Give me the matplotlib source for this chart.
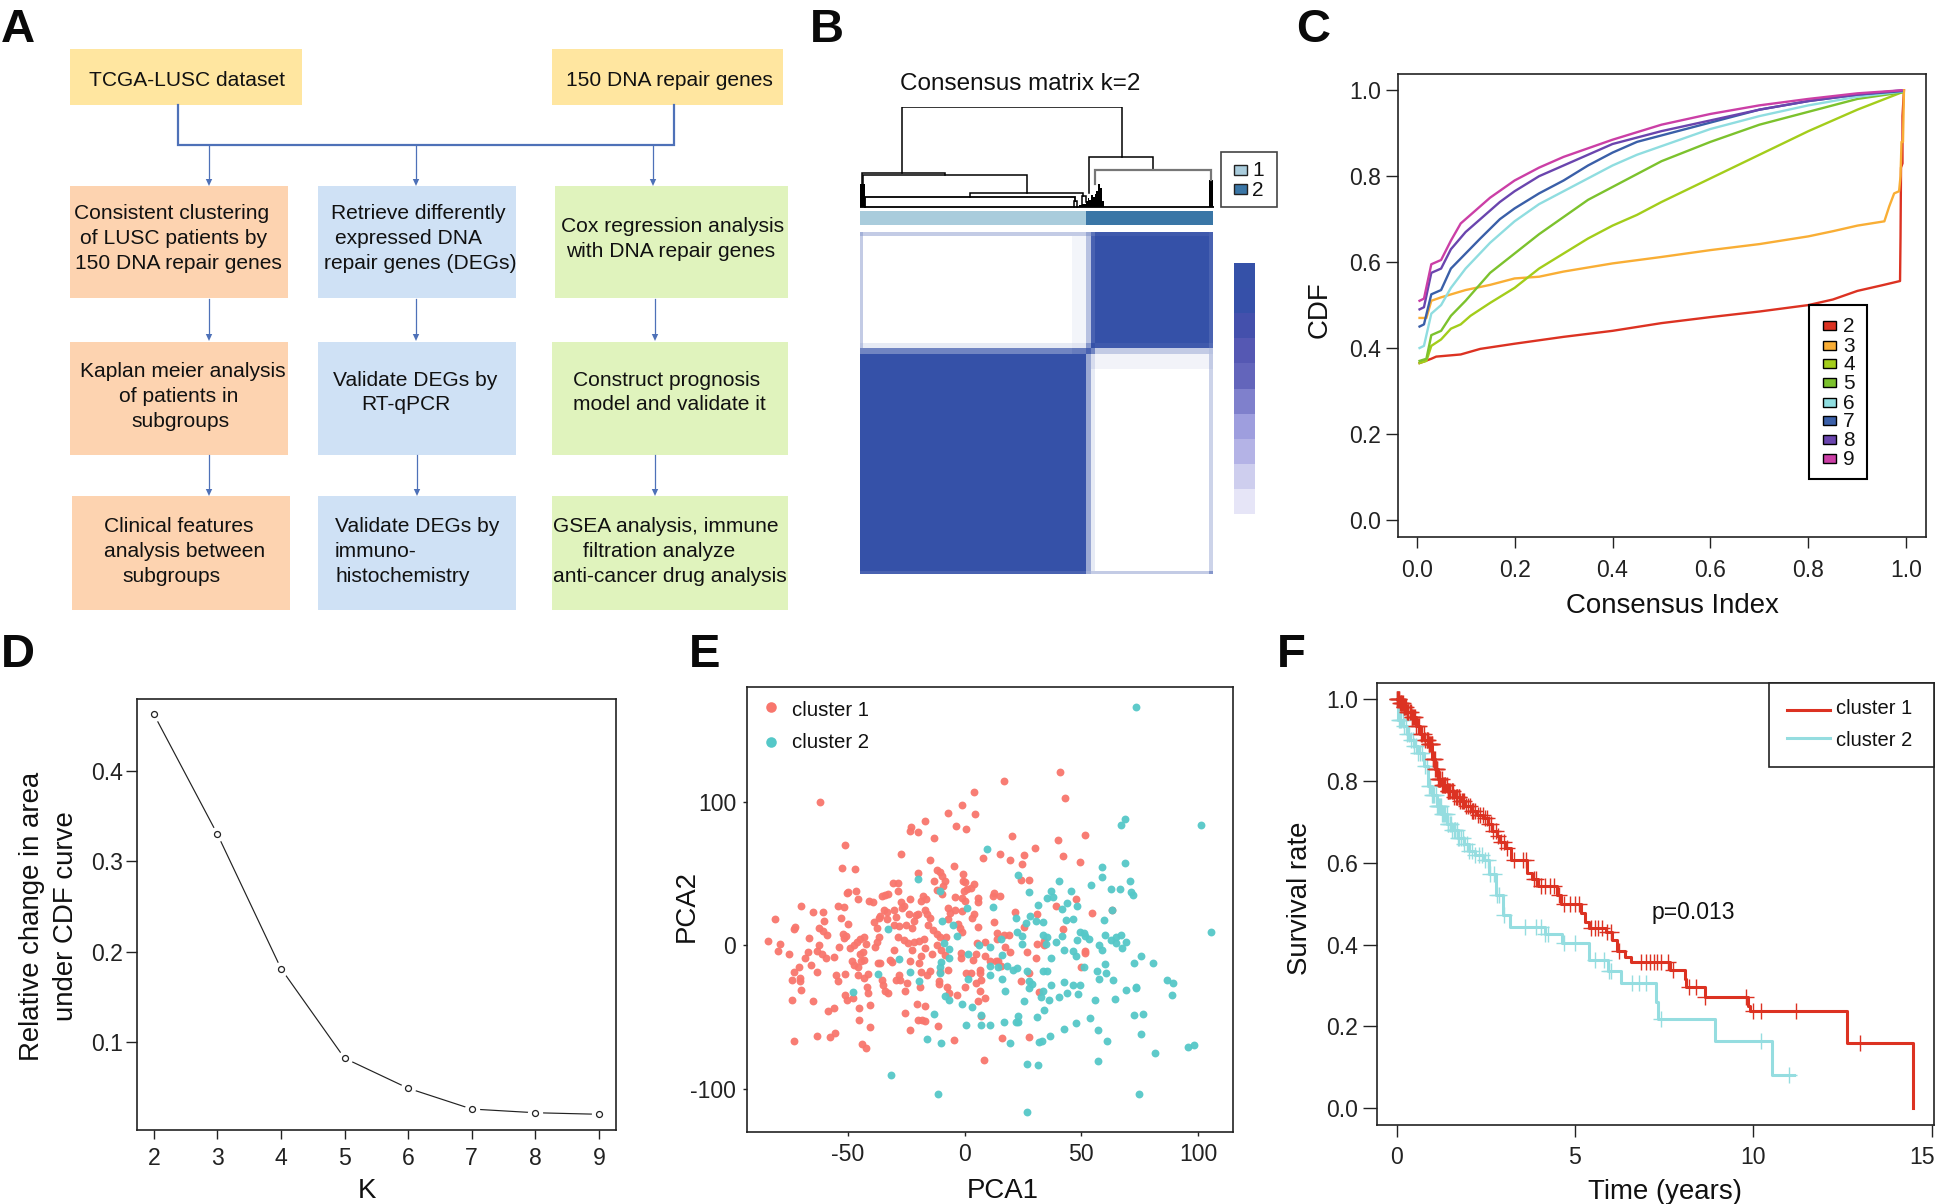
import numpy as np
import matplotlib
matplotlib.use("Agg")
import matplotlib.pyplot as plt
from matplotlib.colors import LinearSegmentedColormap, ListedColormap
from matplotlib.patches import Rectangle, Polygon
from matplotlib.transforms import ScaledTranslation

plt.rcParams['font.family'] = ['Liberation Sans', 'DejaVu Sans']
plt.rcParams['axes.unicode_minus'] = False

W, H = 1944, 1204
TICK_FS, LABEL_FS = 16.6, 19.9

# ---------- panel C data
cdf_colors = ['#DC3222', '#F9AE35', '#A3CD1B', '#7CC22D', '#8FDDE0', '#3A5FA8', '#6A45AE', '#CB3FA6']
cdf_names = ['2', '3', '4', '5', '6', '7', '8', '9']
cdf2_x = [.006,.03,.04,.09,.13,.2,.25,.3,.4,.5,.6,.7,.8,.85,.9,.95,.987,.988,.989,.992,.992,.995]
cdf2_y = [.365,.375,.38,.385,.398,.41,.418,.426,.44,.458,.472,.485,.50,.513,.533,.546,.556,.66,.82,.83,.94,1.0]
cdf3_x = [.006,.02,.03,.05,.1,.15,.2,.25,.3,.4,.5,.6,.7,.8,.85,.9,.955,.965,.975,.985,.988,.99,.993,.995]
cdf3_y = [.47,.47,.51,.518,.535,.547,.562,.566,.578,.597,.612,.628,.642,.66,.672,.685,.695,.73,.76,.765,.80,.88,.88,1.0]
cdf4_x = [.006,.02,.03,.05,.07,.09,.11,.15,.2,.25,.3,.35,.4,.45,.5,.6,.7,.8,.9,.99]
cdf4_y = [.365,.37,.405,.42,.445,.455,.475,.505,.54,.585,.62,.655,.685,.71,.74,.795,.85,.905,.955,.995]
cdf5_x = [.006,.02,.03,.05,.07,.1,.15,.2,.25,.3,.35,.4,.45,.5,.6,.7,.8,.9,.99]
cdf5_y = [.37,.375,.43,.44,.475,.51,.575,.62,.665,.705,.745,.775,.805,.835,.88,.92,.95,.98,.995]
cdf6_x = [.006,.015,.03,.05,.07,.1,.15,.2,.25,.3,.35,.4,.45,.5,.6,.7,.8,.9,.99]
cdf6_y = [.40,.405,.48,.50,.54,.585,.645,.695,.735,.765,.795,.825,.85,.87,.91,.94,.965,.985,.997]
cdf7_x = [.006,.015,.03,.05,.07,.1,.13,.17,.2,.25,.3,.35,.4,.45,.5,.6,.7,.8,.9,.99]
cdf7_y = [.45,.455,.525,.535,.585,.62,.655,.70,.725,.76,.79,.825,.855,.88,.895,.925,.955,.975,.99,.998]
cdf8_x = [.006,.015,.03,.05,.07,.1,.13,.17,.2,.25,.3,.35,.4,.5,.6,.7,.8,.9,.99]
cdf8_y = [.49,.495,.575,.585,.63,.67,.70,.74,.765,.80,.825,.85,.875,.905,.93,.955,.975,.99,1.0]
cdf9_x = [.006,.015,.03,.05,.07,.09,.12,.15,.2,.25,.3,.35,.4,.5,.6,.7,.8,.9,.99]
cdf9_y = [.51,.515,.595,.605,.65,.69,.72,.75,.79,.82,.845,.865,.885,.92,.945,.965,.98,.993,1.0]

# ---------- panel D data
delta_k = [2, 3, 4, 5, 6, 7, 8, 9]
delta_area = [.4628, .33, .1814, .0822, .049, .026, .0219, .0202]

# ---------- panel E data
pca_c1 = [(-84,3),(-81,18),(-79,1),(-80,-4),(-75,-6),(-73,11),(-72.5,12.5),(-70,27),(-65,23),(-60.5,23),(-60,17),(-62.5,12),(-60.5,10),(-59,7),(-66.5,5),(-62.5,0),(-63,-4),(-67,-5),(-68.5,-9),(-70.7,-15),(-65.6,-14),(-73,-19),(-74,-24),(-70.5,-23),(-70.4,-25),(-70,-31),(-63,-19),(-61,-6),(-59.4,-9),(-56,-8),(-74,-38),(-65,-39),(-73,-67),(-63,-63),(-57.5,-64),(-55.5,-61),(-58.6,-46),(-56,-44),(-55,-21),(-54,-25),(-51,-20),
(-54.3,27),(-51.4,26.5),(-52.7,18.6),(-50,14.5),(-52,8),(-50.6,6.6),(-51.7,5),(-53.7,-1),(-49,-2),(-47.3,0),(-46,2),(-44.8,4),(-43,6),(-42,1),(-43.5,-5),(-44.8,-6),(-48,-11),(-47.3,-14),(-45.7,-15),(-43,-10),(-44.5,-11),(-41.4,-20),(-43,-23),(-45.8,-21),(-41.6,-29),(-41.4,-33),(-51.2,-35),(-50.2,-38),(-47.8,-37),(-45.3,-44),(-40.3,-42),(-45.2,-52),(-40.4,-57),(-44,-69),(-42,-72),
(-50.2,36),(-49.8,37),(-46.5,37.5),(-45.7,32),(-52.5,54),(-47,53),(-51,70),(-62,100),
(-40.8,31),(-39.4,30),(-35.5,34),(-34.2,35),(-32.6,35.5),(-30.8,43),(-28.5,43),(-28.3,37.5),(-36.8,19),(-38.6,16),(-37.6,12),(-36.5,6),(-37.6,2),(-38.5,-1),(-37,-12.5),(-36.3,-12.5),(-32,-10),(-31,-12),(-35.4,-24),(-35,-28),(-34.2,-32),(-32.6,-33),(-28,-21),(-29.3,-24),(-27.8,-24),(-24.7,-26.5),(-25.5,-32),(-19,-29),(-20.3,-41),(-17,-42.5),(-25.7,-47),(-20,-52),(-18.3,-52.5),(-17,-53),(-23.2,-59),(-11.3,-56.5),(-4.7,-66),
(-34.5,24.5),(-33,23),(-30.4,24.5),(-33,18),(-36.3,20.6),(-29.3,19.4),(-27.2,30),(-26.8,25.7),(-26,27),(-30,14.3),(-28,13.5),(-25.2,14.3),(-28.5,5.4),(-26,3.3),(-24,1.5),(-21.6,2),(-19.5,2.8),(-17.5,4),(-22.7,-3.6),(-30.4,-3.6),(-18.8,-7.4),(-16.9,-2.3),(-23.2,-11),(-19.5,-12.5),(-14,-6.4),
(-23.6,21.4),(-21,21),(-20,22),(-17,24.5),(-16.2,22),(-14.6,18.6),(-21.6,17),(-22.7,11.7),(-15.7,14.3),(-13.7,10.4),(-12,8),(-10.5,6),(-8,6),(-12,0),(-10.3,-3.6),(-8.5,-7),
(-23.2,32),(-18.7,31),(-17.7,34.6),(-16.7,32),(-20,50),(-13,45),(-11.8,52.5),(-10.5,51),(-9.7,48),(-8.5,45),(-9.2,41),(-11.8,38.5),(-9.7,35.4),(-14.7,59),(-13,74.6),(-27.3,63.7),(-23,82.5),(-23.2,79.5),(-20,79),(-17,86.6),(-7,92),(-1.3,97.6),(4,107),(4.4,91.5),(-3.8,83),(0.5,81),(16.7,114.4),(41,121),(43,102.7),
(-4.4,55.5),(-0.8,49.4),(-0.5,45),(0.3,44),(4,42.3),(2.6,40),(1,39),(-0.3,38),(-4,33.4),(-1,33),(0.2,31),(5.7,32.6),(5.7,30.3),(12.4,36.4),(12,34),(15,34),
(-7.2,25.7),(-4.3,24.5),(-6.4,22.7),(-1,23.7),(4,22),(3,18.9),(-7.2,18),(-2.8,15),(-2,11.7),(-1,9),
(5.9,13),(12.4,16.3),(13.7,8.4),(13.7,4.6),(16.9,7.4),(19,7.4),(5.2,1.8),(8.7,2),(17.3,-1),(19.3,-4.8),(-1.5,-5.6),(-1.5,-9),(3.4,-10),(5,-6),(8.7,-7.4),(10.8,-11),(13.3,-11),(14.4,-11),(15.7,-14.5),
(-18.7,-19),(-15,-18),(-16.2,-21),(-10.5,-19),(-6.9,-17.6),(-10.8,-25),(-11,-27),(-7.4,-29),(-6.7,-33.6),(-3.3,-34.4),(0.3,-29),(0.5,-19.6),(2.6,-19.6),(6.7,-17),(6.7,-19.6),(7.2,-24.5),(5,-26.5),(6.7,-31.6),(8.8,-36.7),(5.9,-39),(7.2,-49.4),(16.2,-65),(8.3,-80),(27.5,-63.7),(24,-25),(27.5,-19.6),
(21.8,23),(25.4,12.5),(30.8,22),(42.2,11.5),(39.3,27),(47.8,32),(54.7,22.7),(63,24.5),(26.7,-4.8),(30.4,-8.7),(31,0.8),(34.2,2.8),(34,0.3),(51.7,-5.4),(51.7,-4.3),(50,-15),(31.8,-32.9),(24.2,45.6),(27.5,45.6),(24.7,56.3),(25.5,62.7),(30,67.5),(19.6,59.4),(20.5,76.4),(15,63.7),(7.9,61),(40,73.6),(42.2,62),(49.6,57.8),(51.4,76.7)]
pca_c2 = [(73.3,166),(68.6,88),(67,84),(101.3,84),(9.7,67),(59,54.5),(68.7,57.6),(59,47.6),(71,45),(54.3,41.8),(62.8,39),(66.4,39),(71.4,36.7),(72.2,35),(23,48.7),(40.6,44.8),(27.5,37),(37,37.7),(45.5,37.7),(35.4,32.9),(38,33.4),(31.4,28),(43.9,29.6),(41.6,25),(48,27.5),(63,24.5),(12,26.8),(1,25.7),(-19.8,46),(-10.5,38),(-32.7,11),(-9.8,16.8),(-5,14),(-3.4,6.4),(-8.8,1.5),(-6.7,-2.5),(-6.5,-9),(-10,-12),(-10.5,-15),(-10.5,-19.6),(1.3,-5.9),(6.2,0.3),(10.8,-1),(15.7,4),(16,-6.6),(10.8,-14.5),(14.4,-15.5),(16.2,-23.7),(17.3,-31.6),(18,-14.5),(20.6,-17),(22.3,-15.8),(22.3,8.9),(24.7,6.4),(24.4,0.8),(22,18.9),(28,20),(26.5,15.5),(30.4,17),(33.4,16),(33.4,7.4),(35.4,5.4),(35,1),(39,2.3),(41.6,6.4),(43.5,17.6),(46.3,18),(42.7,-3.3),(48,3.6),(46.6,-4.3),(47.6,-7.4),(37,-8.7),(49.3,9.4),(51,8.4),(51.7,6.6),(53.4,4.6),(59.6,17.6),(60,7.4),(57.6,0.3),(58.8,-3.6),(62.7,3.6),(64.8,5.9),(67,7.4),(64.8,1.5),(69,2.3),(67.3,-2.3),(75.4,-7.9),(72.7,-12.2),(80.5,-12.2),(60,-13),(51,-15),(56.8,-17.8),(60.7,-19.6),(57.6,-23.4),(63.5,-24.5),(26.8,-18),(33.7,-18.3),(35.4,-17.8),(27.5,-25),(28.8,-27),(27.5,-30),(42.7,-25.7),(49.3,-27.5),(46.2,-27.8),(37,-27.8),(33.7,-31.6),(43.9,-33.6),(48.4,-34),(40.3,-36),(36.2,-38),(32.9,-36),(25.5,-39),(34,-45),(55.8,-38),(64.3,-37.5),(69.2,-31),(73.5,-29),(73.5,-30),(86.6,-24.5),(89.2,-26.5),(88.7,-35),(72.7,-48.4),(76.3,-48),(53.7,-51),(47.5,-54),(42.7,-58.6),(57.3,-59),(75.4,-61.7),(61,-67),(57,-81),(81.7,-75.4),(95.7,-71.3),(98.4,-69.3),(36.7,-63),(33,-66.5),(32,-67.5),(19.5,-68.5),(31,-50),(22.7,-49.4),(22,-53.5),(23,-53.5),(17,-53.5),(7.2,-48.7),(7.2,-55.5),(11,-55.8),(0.7,-55.5),(3.3,-43.3),(-1.3,-41.3),(-6.5,-38),(-8.2,-35.4),(-13,-48),(-16,-65.5),(-10,-68),(26.8,-82.5),(31.3,-83.8),(-31.3,-90.4),(-11.3,-103.7),(26.8,-116),(74.5,-103.7),(105.4,9.4),(-47.6,-32.4),(-37,-20.4),(-28,-9.4),(-23.4,-19),(-19.6,-24.7),(1.6,-23.4),(11,-21)]

# ---------- panel F data
km1_t = [0,.1,.18,.3,.41,.55,.65,.78,.89,1.0,1.08,1.15,1.28,1.42,1.6,1.78,1.93,2.08,2.25,2.43,2.55,2.67,2.8,2.9,3.05,3.2,3.65,3.8,3.97,4.5,4.62,5.16,5.28,5.4,5.87,6.05,6.17,6.4,6.58,7.65,8.07,8.12,8.64,9.85,9.9,12.63,14.48]
km1_s = [1.0,.99,.982,.97,.956,.935,.915,.9,.89,.855,.83,.806,.79,.775,.762,.75,.738,.727,.718,.71,.695,.678,.665,.652,.635,.608,.575,.56,.542,.52,.498,.478,.455,.44,.43,.41,.385,.37,.357,.337,.316,.296,.271,.25,.237,.158,0.0]
km1_cens = [.0,.02,.03,.05,.06,.08,.1,.12,.13,.15,.17,.2,.22,.24,.27,.3,.32,.33,.37,.4,.42,.44,.47,.5,.52,.55,.6,.64,.68,.72,.76,.8,.84,.86,.88,.9,.92,.93,.96,.98,.99,1.02,1.03,1.05,1.07,1.08,1.1,1.12,1.14,1.15,1.18,1.2,1.22,1.23,1.26,1.28,1.3,1.33,1.35,1.37,1.4,1.43,1.45,1.47,1.5,1.54,1.56,1.58,1.62,1.66,1.68,1.7,1.74,1.76,1.78,1.82,1.86,1.9,1.95,2.0,2.05,2.1,2.13,2.15,2.2,2.27,2.35,2.42,2.47,2.52,2.58,2.64,2.7,2.78,2.85,2.92,3.0,3.1,3.3,3.55,3.62,3.85,3.9,4.05,4.15,4.3,4.42,4.55,4.7,4.85,5.0,5.1,5.45,5.55,5.65,5.75,5.9,6.0,6.22,6.85,7.0,7.1,7.2,7.3,7.42,7.6,7.75,8.2,8.4,8.65,9.8,10.0,10.2,11.2,13.0]
km2_t = [0,.05,.18,.3,.36,.5,.6,.77,.89,1.0,1.13,1.25,1.42,1.55,1.72,1.88,2.02,2.2,2.43,2.6,2.79,2.97,3.17,4.15,4.63,5.4,5.93,6.29,7.27,7.33,8.92,10.52]
km2_s = [1.0,.95,.934,.915,.9,.885,.868,.837,.789,.765,.74,.72,.696,.68,.661,.645,.63,.62,.608,.573,.52,.472,.444,.425,.403,.362,.335,.305,.26,.217,.164,.08]
km2_end = [11.15, .08]
km2_cens = [.0,.03,.06,.1,.13,.17,.2,.25,.3,.35,.4,.45,.5,.55,.6,.66,.72,.8,.85,.9,.95,1.0,1.03,1.06,1.1,1.13,1.15,1.17,1.2,1.22,1.24,1.28,1.3,1.32,1.36,1.4,1.43,1.45,1.5,1.53,1.55,1.6,1.63,1.65,1.7,1.73,1.75,1.8,1.85,1.9,1.97,2.03,2.1,2.2,2.3,2.4,2.47,2.55,2.62,2.72,2.8,2.87,3.0,3.6,3.9,4.05,4.15,4.25,4.7,5.0,5.55,5.8,5.95,6.0,6.6,6.8,7.0,7.4,10.2,11.0]

# ---------- panel B data
consensus_cols = [0, .008, .6, .641, .653, .665, .99, 1]
consensus_rows = [0, .011, .326, .34, .356, .40, .992, 1]
consensus = [[.45,.3,.3,.5,.8,.95,.9],
             [.3,0,.06,.35,.9,1,.9],
             [.35,.12,.15,.6,1,.95,.85],
             [.7,.7,.75,.9,.7,.3,.35],
             [1,1,1,.5,.2,.07,.3],
             [1,1,1,.5,.12,0,.25],
             [.9,.9,.9,.45,.3,.3,.6]]
scale_levels = [10, 9, 8, 7, 6, 5, 4, 3, 2, 1]
scale_colors = ['#3551A8','#3650A9','#4450AC','#5558B3','#6365BB','#7F80CC','#9E9EDE','#B4B3E6','#CECEEE','#E6E5F7']
# merges: left x, right x, top height, left child height, right child height, colour, width
merges = [(.12,.742,1.0,.339,.5,'k',1.1),(.65,.83,.5,.138,.374,'k',1.1),(.667,.995,.374,.236,.276,'#777777',1.6),
          (.005,.241,.339,.236,.319,'k',1.1),(.009,.473,.319,.098,.138,'k',1.1),(.312,.633,.138,.098,.11,'k',1.1),
          (.014,.61,.098,0,.06,'k',1.3),(.605,.615,.06,0,0,'k',1.1),(.628,.64,.11,.02,.05,'k',1.1)]
blob_x = [0,.014,.62,.63,.64,.645,.65,.655,.66,.665,.67,.675,.68,.685,.69,.99,1.0]
blob_h = [.236,0,.02,.03,.06,.09,.07,.12,.10,.13,.16,.236,.19,.06,0,.276,.276]

# ---------- panel A content
boxes = [(70,49,302,105,'#FFE6A0'),(552,49,783,105,'#FFE6A0'),
         (70,186,288,298,'#FDD3B0'),(318,186,516,298,'#CFE1F5'),(555,186,788,298,'#E0F3BD'),
         (70,342,288,455,'#FDD3B0'),(318,342,516,455,'#CFE1F5'),(552,342,788,455,'#E0F3BD'),
         (72,496,290,610,'#FDD3B0'),(318,496,516,610,'#CFE1F5'),(552,496,788,610,'#E0F3BD')]
texts = [(89,79,'TCGA-LUSC dataset'),(566,79,'150 DNA repair genes'),
 (74,212,'Consistent clustering'),(80,237,'of LUSC patients by'),(75,262,'150 DNA repair genes'),
 (330.5,212,'Retrieve differently'),(335,237,'expressed DNA'),(324,262,'repair genes (DEGs)'),
 (561,225,'Cox regression analysis'),(566,250,'with DNA repair genes'),
 (79.5,370,'Kaplan meier analysis'),(119,395,'of patients in'),(131,420,'subgroups'),
 (333,378.5,'Validate DEGs by'),(361,403.5,'RT-qPCR'),
 (573,378.5,'Construct prognosis'),(573,403.5,'model and validate it'),
 (104,525,'Clinical features'),(104,550,'analysis between'),(122,575,'subgroups'),
 (335,525,'Validate DEGs by'),(335,550,'immuno-'),(335,575,'histochemistry'),
 (553,525,'GSEA analysis, immune'),(582.6,550,'filtration analyze'),(553,575,'anti-cancer drug analysis')]
arrows = [(209,145,186),(416,145,186),(653,145,186),(209,299,341),(416,299,341),(655,299,341),(209,455,496),(417,455,496),(655,455,496)]

fig = plt.figure(figsize=(W/100, H/100), dpi=100, facecolor='white')
def axpx(l, t, r, b, **kw):
    return fig.add_axes([l/W, 1-b/H, (r-l)/W, (b-t)/H], **kw)

ov = fig.add_axes([0, 0, 1, 1], zorder=10)
ov.set_xlim(0, W); ov.set_ylim(H, 0); ov.axis('off'); ov.patch.set_alpha(0)

# panel letters
for s, x, y in [('A',1,29.5),('B',810,29.5),('C',1296,29.5),('D',1,655),('E',689,655),('F',1277,655)]:
    ov.text(x, y, s, fontsize=34, fontweight='bold', ha='left', va='center', color='#0a0a0a')

# ---------- A
for l,t,r,b,c in boxes:
    ov.add_patch(Rectangle((l,t), r-l, b-t, fc=c, ec='none'))
for x,y,s in texts:
    ov.text(x, y+1.5, s, fontsize=15.1, ha='left', va='center', color='#111111')
lc = '#4E71B8'
ov.plot([178,178,674,674],[105,145,145,105], color=lc, lw=1.6, solid_joinstyle='miter')
for x,y0,y1 in arrows:
    ov.plot([x,x],[y0,y1-5], color=lc, lw=.9)
    ov.add_patch(Polygon([(x-3.2,y1-7),(x+3.2,y1-7),(x,y1)], fc=lc, ec='none'))

# ---------- B
ov.text(1020, 84, 'Consensus matrix k=2', fontsize=17.5, ha='center', va='center', color='#111111')
cmap = LinearSegmentedColormap.from_list('c', ['white', '#3551A8'])
axh = axpx(860, 232, 1213, 574)
axh.pcolormesh(consensus_cols, consensus_rows, np.array(consensus), cmap=cmap, vmin=0, vmax=1)
axh.set_xlim(0,1); axh.set_ylim(1,0); axh.axis('off')
axb = axpx(860, 211, 1213, 225)
axb.pcolormesh([0,.641,1],[0,1],[[0,1]], cmap=ListedColormap(['#A9CCDC','#3A76A6']))
axb.axis('off')
axd = axpx(860, 107, 1214, 208)
for xl,xr,top,hl,hr,c,lw in merges:
    axd.plot([xl,xl,xr,xr],[hl,top,top,hr], color=c, lw=lw, solid_joinstyle='miter')
axd.fill_between(blob_x, 0, blob_h, step='post', color='k', lw=0)
axd.plot([0,1.002],[0,0], color='k', lw=1.3)
axd.set_xlim(0,1.003); axd.set_ylim(-.01,1.005); axd.axis('off')
axs = axpx(1234, 263, 1255, 514)
axs.pcolormesh([0,1], np.arange(len(scale_levels)+1), np.array(scale_levels).reshape(-1,1),
               cmap=ListedColormap(scale_colors[::-1]))
axs.set_ylim(len(scale_levels), 0); axs.axis('off')
ov.add_patch(Rectangle((1221,152), 56, 55, fc='none', ec='#444444', lw=1.2))
for y0, c, s, ty in [(165,'#A9CCDC','1',171),(184,'#3A76A6','2',191)]:
    ov.add_patch(Rectangle((1234,y0), 13, 9.5, fc=c, ec='#222222', lw=1))
    ov.text(1258, ty, s, fontsize=15, ha='center', va='center', color='#111111')

# ---------- helper
def style(ax, xt, yt, xl, yl, xtl=None, ytl=None, tlx=8, tly=8, wid=1.0, padx=8, pady=2):
    for sp in ax.spines.values():
        sp.set_linewidth(1.2); sp.set_color('#222222')
    ax.set_xticks(xt); ax.set_yticks(yt)
    if xtl: ax.set_xticklabels(xtl)
    if ytl: ax.set_yticklabels(ytl)
    ax.tick_params(axis='x', length=tlx, width=wid, labelsize=TICK_FS, pad=padx, colors='#222222')
    ax.tick_params(axis='y', length=tly, width=wid, labelsize=TICK_FS, pad=pady, colors='#222222')
    ax.set_xlim(*xl); ax.set_ylim(*yl)
def labels(ax, xs, xpx, ypx, ys, xpy, ypy, fs=LABEL_FS, ls=1.2):
    ax.set_xlabel(xs, fontsize=fs, va='center', ha='center', color='#111111')
    ax.xaxis.set_label_coords(xpx, ypx, transform=ov.transData)
    ax.set_ylabel(ys, fontsize=fs, va='center', ha='center', color='#111111', linespacing=ls)
    ax.yaxis.set_label_coords(xpy, ypy, transform=ov.transData)

# ---------- C
axc = axpx(1398, 74, 1926, 537)
series = [(cdf2_x,cdf2_y),(cdf3_x,cdf3_y),(cdf4_x,cdf4_y),(cdf5_x,cdf5_y),(cdf6_x,cdf6_y),(cdf7_x,cdf7_y),(cdf8_x,cdf8_y),(cdf9_x,cdf9_y)]
for (x,y),c in zip(series, cdf_colors):
    axc.plot(x, y, color=c, lw=1.7, solid_joinstyle='round')
ticks = [0,.2,.4,.6,.8,1]; tl = ['0.0','0.2','0.4','0.6','0.8','1.0']
style(axc, ticks, ticks, (-.038,1.04), (-.04,1.038), tl, tl, tlx=7.6, tly=8.4, padx=8, pady=4)
labels(axc, 'Consensus Index', 1672, 606, 'CDF', 1320, 310)
ov.add_patch(Rectangle((1809,305), 58, 174, fc='white', ec='k', lw=1.5))
for c,s,y in zip(cdf_colors, cdf_names, [325,345,363,382,402,420,439,458]):
    ov.add_patch(Rectangle((1823,y-4.5), 13, 9.5, fc=c, ec='k', lw=1))
    ov.text(1849, y+1.5, s, fontsize=15, ha='center', va='center', color='#111111')

# ---------- D
axk = axpx(137, 699, 616, 1130)
axk.plot(delta_k, delta_area, color='#222222', lw=.85)
axk.plot(delta_k, delta_area, ls='none', marker='o', ms=11, mfc='white', mec='none')
axk.plot(delta_k, delta_area, ls='none', marker='o', ms=4.3, mfc='white', mec='#222222', mew=.9)
style(axk, delta_k, [.1,.2,.3,.4], (1.734,9.27), (.0028,.4798), [str(k) for k in delta_k], ['0.1','0.2','0.3','0.4'],
      tlx=6.8, tly=8, padx=5.5, pady=2)
labels(axk, 'K', 367, 1191, 'Relative change in area\nunder CDF curve', 49, 916, ls=1.42)

# ---------- E
axp = axpx(746.6, 687, 1233, 1132)
c1 = np.array(pca_c1); c2 = np.array(pca_c2)
axp.scatter(c1[:,0], c1[:,1], s=32, color='#F8766D', lw=0, alpha=.95, zorder=2)
axp.scatter(c2[:,0], c2[:,1], s=32, color='#55C8C8', lw=0, alpha=.95, zorder=3)
style(axp, [-50,0,50,100], [-100,0,100], (-93.3,114.9), (-130.2,179.9), tlx=3, tly=3, padx=5, pady=4.5)
labels(axp, 'PCA1', 1003, 1191, 'PCA2', 687, 906)
for y,ty,c,s in [(707,710,'#F8766D','cluster 1'),(742,742,'#55C8C8','cluster 2')]:
    ov.plot([771],[y], marker='o', ms=7.6, color=c, mec='none')
    ov.text(792, ty, s, fontsize=14.7, ha='left', va='center', color='#111111')

# ---------- F
axf = axpx(1376.6, 683, 1934, 1124.5)
t1 = np.array(km1_t); s1 = np.array(km1_s); t2 = np.array(km2_t); s2 = np.array(km2_s)
teal, red = '#95DDE0', '#DC3222'
axf.step(np.append(t2, km2_end[0]), np.append(s2, km2_end[1]), where='post', color=teal, lw=2.2)
axf.plot(km2_cens, s2[np.searchsorted(t2, km2_cens, side='right')-1], ls='none', marker='+', ms=12, mew=1, color=teal)
axf.step(t1, s1, where='post', color=red, lw=2.2)
axf.plot(km1_cens, s1[np.searchsorted(t1, km1_cens, side='right')-1], ls='none', marker='+', ms=12, mew=1, color=red)
style(axf, [0,5,10,15], ticks, (-.56,15.06), (-.0405,1.04), ['0','5','10','15'], tl, tlx=8.6, tly=10, padx=7, pady=3.5)
xl = axf.get_xticklabels()[-1]
xl.set_transform(xl.get_transform() + ScaledTranslation(-7/72, 0, fig.dpi_scale_trans))
labels(axf, 'Time (years)', 1665, 1192, 'Survival rate', 1300, 898)
ov.add_patch(Rectangle((1769,683), 165, 84, fc='white', ec='#222222', lw=1.2))
for y,ty,c,s in [(710,708,red,'cluster 1'),(738,740.5,teal,'cluster 2')]:
    ov.plot([1787,1830],[y,y], color=c, lw=2.2)
    ov.text(1836, ty, s, fontsize=14.5, ha='left', va='center', color='#111111')
ov.text(1693, 913, 'p=0.013', fontsize=16.6, ha='center', va='center', color='#111111')

fig.savefig('out.png', dpi=100, facecolor='white')
